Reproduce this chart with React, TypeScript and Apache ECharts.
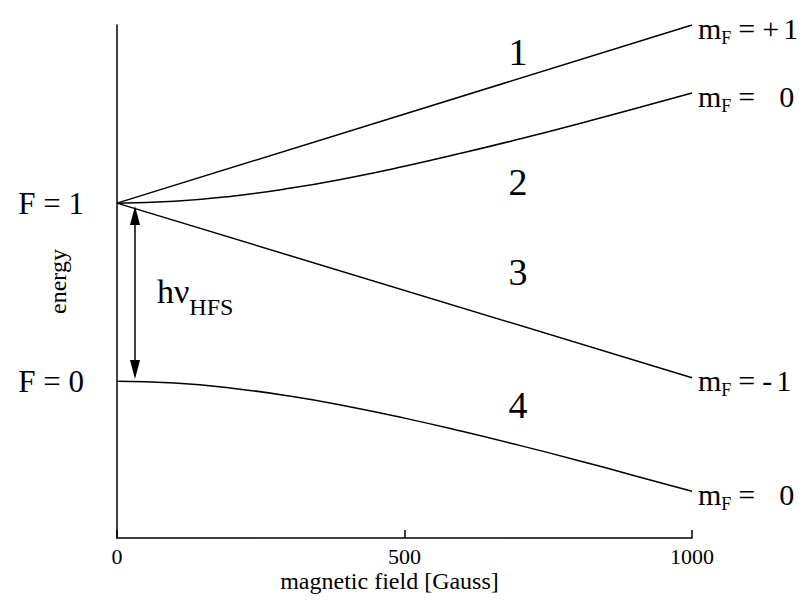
import React, { useEffect, useRef } from "react";
import * as echarts from "echarts";

// magnetic field [Gauss]
const fieldEnds = [0, 1000];
const fieldSteps = [0, 100, 200, 300, 400, 500, 600, 700, 800, 900, 1000];

// energy levels (arbitrary units, F=0 at 0, F=1 at 1)
const energyMFplus1 = [1.0, 2.0];
const energyMFminus1 = [1.0, 0.02];
const energyMF0upper = [1.0, 1.01, 1.039, 1.083, 1.14, 1.207, 1.281, 1.36, 1.443, 1.53, 1.618];
const energyMF0lower = [0.0, -0.01, -0.039, -0.083, -0.14, -0.207, -0.281, -0.36, -0.443, -0.53, -0.618];

const yLabelValues = [0, 1];
const yLabelTexts = ["F = 0", "F = 1"];

const endLabelTexts = [
  "{m|m}{s|F}{e|=}{e|+}{d|1}",
  "{m|m}{s|F}{e|=}{z|0}",
  "{m|m}{s|F}{e|=}{e|-}{d|1}",
  "{m|m}{s|F}{e|=}{z|0}",
];
const branchNumbers = ["1", "2", "3", "4"];

const FONT = '"Liberation Serif", "Times New Roman", serif';

export default function App() {
  const ref = useRef<HTMLDivElement>(null);
  useEffect(() => {
    document.body.style.margin = "0";
    if (!ref.current) return;
    const chart = echarts.init(ref.current, null, { renderer: "svg" });
    const pairs = (xs: number[], ys: number[]) => xs.map((x, i) => [x, ys[i]]);
    const big = { fontSize: 30, fontFamily: FONT, color: "#000", lineHeight: 37 };
    const endLabel = (txt: string) => ({
      show: true,
      formatter: () => txt,
      distance: 6,
      offset: [0, 3],
      color: "#000",
      rich: {
        m: big,
        s: { fontSize: 18, fontFamily: FONT, color: "#000", lineHeight: 18, verticalAlign: "bottom" },
        e: { ...big, padding: [0, 0, 0, 7] },
        d: { ...big, padding: [0, 0, 0, 4] },
        z: { ...big, padding: [0, 0, 0, 24] },
      },
    });
    const lineSeries = (data: number[][], label: string, smooth: boolean) => ({
      type: "line",
      data,
      showSymbol: false,
      smooth,
      lineStyle: { color: "#000", width: 1.5 },
      endLabel: endLabel(label),
      silent: true,
    });
    chart.setOption({
      animation: false,
      backgroundColor: "#fff",
      grid: { left: 117, right: 115, top: 25, bottom: 70, containLabel: false, outerBoundsMode: "none" },
      xAxis: {
        type: "value",
        min: 0,
        max: 1000,
        interval: 500,
        name: "magnetic field [Gauss]",
        nameLocation: "middle",
        nameGap: 31,
        nameMoveOverlap: false,
        nameTextStyle: { fontFamily: FONT, fontSize: 24, color: "#000", padding: [0, 30, 0, 0] },
        axisLine: { onZero: false, lineStyle: { color: "#000", width: 1.5 } },
        axisTick: { show: true, inside: true, length: 8, lineStyle: { color: "#000", width: 1.5 } },
        axisLabel: {
          fontFamily: FONT,
          fontSize: 22,
          color: "#000",
          margin: 7,
          formatter: (v: number) => String(v),
        },
        splitLine: { show: false },
      },
      yAxis: {
        type: "value",
        min: -0.88,
        max: 2.0,
        name: "energy",
        nameLocation: "middle",
        nameGap: 47,
        nameMoveOverlap: false,
        nameTextStyle: { fontFamily: FONT, fontSize: 24, color: "#000" },
        axisLine: { show: true, onZero: false, lineStyle: { color: "#000", width: 1.5 } },
        axisTick: { show: false },
        splitLine: { show: false },
        axisLabel: {
          customValues: yLabelValues,
          formatter: (v: number) => {
            const i = yLabelValues.indexOf(v);
            return i >= 0 ? yLabelTexts[i] : "";
          },
          fontFamily: FONT,
          fontSize: 31,
          color: "#000",
          margin: 33,
          padding: [6, 0, 0, 0],
        },
      },
      series: [
        lineSeries(pairs(fieldEnds, energyMFplus1), endLabelTexts[0], false),
        lineSeries(pairs(fieldSteps, energyMF0upper), endLabelTexts[1], true),
        lineSeries(pairs(fieldEnds, energyMFminus1), endLabelTexts[2], false),
        lineSeries(pairs(fieldSteps, energyMF0lower), endLabelTexts[3], true),
      ],
      graphic: [
        { type: "text", x: 518, y: 52, style: { text: branchNumbers[0], fontSize: 38, fontFamily: FONT, fill: "#000", align: "center", verticalAlign: "middle" } },
        { type: "text", x: 518, y: 182, style: { text: branchNumbers[1], fontSize: 38, fontFamily: FONT, fill: "#000", align: "center", verticalAlign: "middle" } },
        { type: "text", x: 518, y: 272, style: { text: branchNumbers[2], fontSize: 38, fontFamily: FONT, fill: "#000", align: "center", verticalAlign: "middle" } },
        { type: "text", x: 518, y: 405, style: { text: branchNumbers[3], fontSize: 38, fontFamily: FONT, fill: "#000", align: "center", verticalAlign: "middle" } },
        {
          type: "text",
          x: 157,
          y: 291,
          style: {
            text: "{a|hν}{b|HFS}",
            align: "left",
            verticalAlign: "middle",
            rich: {
              a: { fontSize: 34, fontFamily: FONT, fill: "#000", color: "#000", lineHeight: 55 },
              b: { fontSize: 24, fontFamily: FONT, fill: "#000", color: "#000", lineHeight: 24, verticalAlign: "bottom" },
            },
          },
        },
        { type: "line", shape: { x1: 135, y1: 222, x2: 135, y2: 362 }, style: { stroke: "#000", lineWidth: 1.5 } },
        { type: "polygon", shape: { points: [[135, 206], [130, 225], [140, 225]] }, style: { fill: "#000" } },
        { type: "polygon", shape: { points: [[135, 379], [130, 360], [140, 360]] }, style: { fill: "#000" } },
      ],
    });
    return () => chart.dispose();
  }, []);
  return <div ref={ref} style={{ width: 807, height: 608 }} />;
}
